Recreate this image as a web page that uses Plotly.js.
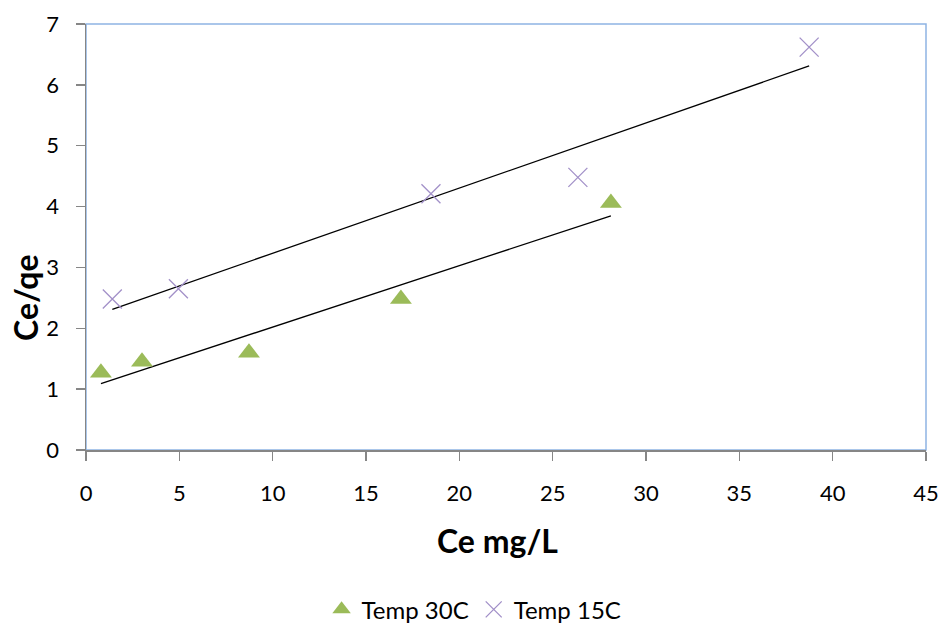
<!DOCTYPE html>
<html>
<head>
<meta charset="utf-8">
<script src="https://cdn.plot.ly/plotly-3.0.1.min.js"></script>
<style>html,body{margin:0;padding:0;background:#fff;}#chart{width:944px;height:623px;}</style>
</head>
<body>
<div id="chart"></div>
<script>
const x30 = [0.8, 3.0, 8.73, 16.87, 28.12];
const y30 = [1.27, 1.45, 1.6, 2.48, 4.06];
const x15 = [1.41, 4.95, 18.48, 26.35, 38.74];
const y15 = [2.48, 2.65, 4.21, 4.48, 6.62];
const name30 = "Temp 30C";
const name15 = "Temp 15C";
const xTicks = [0, 5, 10, 15, 20, 25, 30, 35, 40, 45];
const yTicks = [0, 1, 2, 3, 4, 5, 6, 7];

function linfit(xs, ys) {
  const n = xs.length;
  const mx = xs.reduce((a, b) => a + b, 0) / n;
  const my = ys.reduce((a, b) => a + b, 0) / n;
  let sxy = 0, sxx = 0;
  for (let i = 0; i < n; i++) { sxy += (xs[i] - mx) * (ys[i] - my); sxx += (xs[i] - mx) ** 2; }
  const m = sxy / sxx, b = my - m * mx;
  const x0 = Math.min(...xs), x1 = Math.max(...xs);
  return { x: [x0, x1], y: [m * x0 + b, m * x1 + b] };
}
const f30 = linfit(x30, y30);
const f15 = linfit(x15, y15);

const FONT = "Lato, 'Open Sans', sans-serif";

const traces = [
  { x: f30.x, y: f30.y, mode: "lines", line: { color: "#000", width: 1.3 }, showlegend: false, hoverinfo: "skip" },
  { x: f15.x, y: f15.y, mode: "lines", line: { color: "#000", width: 1.3 }, showlegend: false, hoverinfo: "skip" },
  { x: x30, y: y30, name: name30, mode: "markers", type: "scatter",
    marker: { symbol: "triangle-up", size: 19, color: "#9BBB59", line: { width: 0 } } },
  { x: x15, y: y15, name: name15, mode: "markers", type: "scatter",
    marker: { symbol: "x-thin-open", size: 19, color: "#A290C8", line: { width: 1.3, color: "#A290C8" } } }
];

const layout = {
  width: 944, height: 623,
  margin: { l: 86, r: 18, t: 24, b: 173, autoexpand: false },
  paper_bgcolor: "#fff", plot_bgcolor: "#fff",
  font: { family: FONT, size: 22, color: "#000" },
  showlegend: true,
  legend: { orientation: "h", x: 0.462, xanchor: "center", y: -0.375, yanchor: "middle",
    font: { family: FONT, size: 24, color: "#000" }, tracegroupgap: 0 },
  xaxis: {
    range: [0, 45], tickvals: xTicks, ticktext: xTicks.map(String), automargin: false,
    showgrid: false, zeroline: false, showline: true, linecolor: "#868686", linewidth: 1.5,
    ticks: "outside", ticklen: 9, tickcolor: "#868686", tickwidth: 1.5,
    tickfont: { family: FONT, size: 22, color: "#000" }, ticklabelstandoff: 14, fixedrange: true
  },
  yaxis: {
    range: [0, 7], tickvals: yTicks, ticktext: yTicks.map(String), automargin: false,
    showgrid: false, zeroline: false, showline: true, linecolor: "#868686", linewidth: 1.5,
    ticks: "outside", ticklen: 9, tickcolor: "#868686", tickwidth: 1.5,
    tickfont: { family: FONT, size: 22, color: "#000" }, ticklabelstandoff: 12, fixedrange: true
  },
  shapes: [
    { type: "rect", xref: "paper", yref: "paper", x0: 0, x1: 1, y0: 0, y1: 1,
      line: { color: "#8EB4E3", width: 1.5 }, layer: "below" }
  ],
  annotations: [
    { text: "<b>Ce mg/L</b>", xref: "paper", yref: "paper", x: 0.49, y: -0.2136, xanchor: "center", yanchor: "middle",
      showarrow: false, font: { family: FONT, size: 32, color: "#000" } },
    { text: "<b>Ce/qe</b>", xref: "paper", yref: "paper", x: -0.0714, y: 0.357, xanchor: "center", yanchor: "middle",
      textangle: -90, showarrow: false, font: { family: FONT, size: 32, color: "#000" } }
  ]
};

Plotly.newPlot("chart", traces, layout, { displayModeBar: false, staticPlot: true });
</script>
</body>
</html>
